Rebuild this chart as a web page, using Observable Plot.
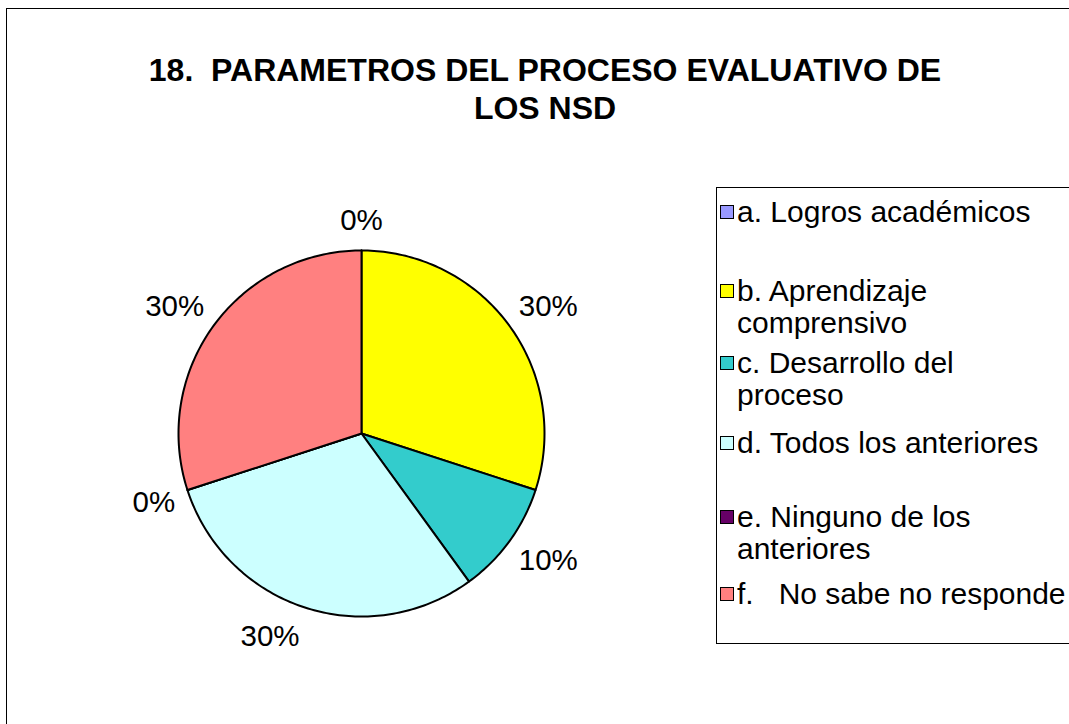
<!DOCTYPE html>
<html><head><meta charset="utf-8">
<script src="https://cdn.jsdelivr.net/npm/d3@7"></script>
<script src="https://cdn.jsdelivr.net/npm/@observablehq/plot@0.6"></script>
<style>
body{margin:0;background:#fff;font-family:"Liberation Sans",Arial,sans-serif;}
#wrap{position:relative;width:1069px;height:724px;overflow:hidden;background:#fff;}
#frame{position:absolute;left:6px;top:8px;width:1100px;height:800px;border:1.5px solid #000;box-sizing:border-box;}
#title{position:absolute;left:7px;width:1076px;top:51px;text-align:center;font-weight:bold;font-size:32px;line-height:38px;color:#000;white-space:pre;}
#chart{position:absolute;left:0;top:0;}
#legend{position:absolute;left:716px;top:187px;width:420px;height:457px;border:1.3px solid #000;box-sizing:border-box;}
.item{position:absolute;left:3px;font-size:30px;line-height:32px;white-space:pre;color:#000;}
.sw{position:absolute;left:0;top:9px;width:14px;height:14px;border:1.7px solid #000;box-sizing:border-box;}
.txt{position:absolute;left:17px;top:0;}
</style></head>
<body>
<div id="wrap">
  <div id="frame"></div>
  <div id="chart"></div>
  <div id="title">18.  PARAMETROS DEL PROCESO EVALUATIVO DE
LOS NSD</div>
  <div id="legend"></div>
</div>
<script>
// ---- data ----
const categories = ["a. Logros académicos", "b. Aprendizaje comprensivo", "c. Desarrollo del proceso", "d. Todos los anteriores", "e. Ninguno de los anteriores", "f.   No sabe no responde"];
const legendText = ["a. Logros académicos", "b. Aprendizaje\ncomprensivo", "c. Desarrollo del\nproceso", "d. Todos los anteriores", "e. Ninguno de los\nanteriores", "f.   No sabe no responde"];
const shares = [0, 30, 10, 30, 0, 30];
const percentLabels = ["0%", "30%", "10%", "30%", "0%", "30%"];
const colors = ["#9999FF", "#FFFF00", "#33CCCC", "#CCFFFF", "#660066", "#FF8080"];

// ---- layout ----
const R = 183;            // pie radius in px
const CX = 361, CY = 433; // pie centre in px
const labelFont = 29.5;
const legendTops = [8, 87, 159, 239, 313, 390];

const rows = categories.map((c, i) => ({cat: c, share: shares[i], label: percentLabels[i]}));
const arcs = d3.pie().sort(null).value(d => d.share)(rows);

// slice outlines (unit circle, y up)
const pts = [];
arcs.forEach(a => {
  const cat = a.data.cat;
  pts.push({cat, x: 0, y: 0});
  const span = a.endAngle - a.startAngle;
  const n = Math.max(1, Math.ceil(span / (Math.PI / 180)));
  for (let k = 0; k <= n; k++) {
    const t = a.startAngle + span * k / n;
    pts.push({cat, x: Math.sin(t), y: Math.cos(t)});
  }
  pts.push({cat, x: 0, y: 0});
});

// percent label anchors (outside end, Excel-like)
const charW = ch => ch === "%" ? 0.889 : 0.556;
const sgn = v => Math.abs(v) < 1e-9 ? 0 : Math.sign(v);
const labels = arcs.map(a => {
  const m = (a.startAngle + a.endAngle) / 2;
  const ux = Math.sin(m), uy = Math.cos(m);
  const hw = [...a.data.label].reduce((s, c) => s + charW(c), 0) * labelFont / 2;
  const hh = 9;
  const rr = R + 21;
  const px = ux * rr + sgn(ux) * hw * (1 - 0.4 * ux * ux);
  const py = uy * rr + sgn(uy) * hh * (1 - 0.35 * ux * ux);
  return {label: a.data.label, x: px / R, y: py / R};
});

const chart = Plot.plot({
  width: 1069,
  height: 724,
  margin: 0,
  style: {fontFamily: "'Liberation Sans', Arial, sans-serif", background: "transparent"},
  x: {domain: [-1, 1], range: [CX - R, CX + R], axis: null},
  y: {domain: [-1, 1], range: [CY + R, CY - R], axis: null},
  color: {domain: categories, range: colors},
  marks: [
    Plot.line(pts, {x: "x", y: "y", z: "cat", fill: "cat", stroke: "#000", strokeWidth: 2, strokeLinejoin: "round"}),
    Plot.text(labels, {x: "x", y: "y", text: "label", fontSize: labelFont, fill: "#000", textAnchor: "middle", lineAnchor: "middle"})
  ]
});
document.getElementById("chart").appendChild(chart);

// legend
const lg = document.getElementById("legend");
categories.forEach((c, i) => {
  const it = document.createElement("div");
  it.className = "item";
  it.style.top = legendTops[i] + "px";
  const sw = document.createElement("div");
  sw.className = "sw";
  sw.style.background = colors[i];
  const tx = document.createElement("div");
  tx.className = "txt";
  tx.textContent = legendText[i];
  it.appendChild(sw); it.appendChild(tx);
  lg.appendChild(it);
});
</script>
</body></html>
